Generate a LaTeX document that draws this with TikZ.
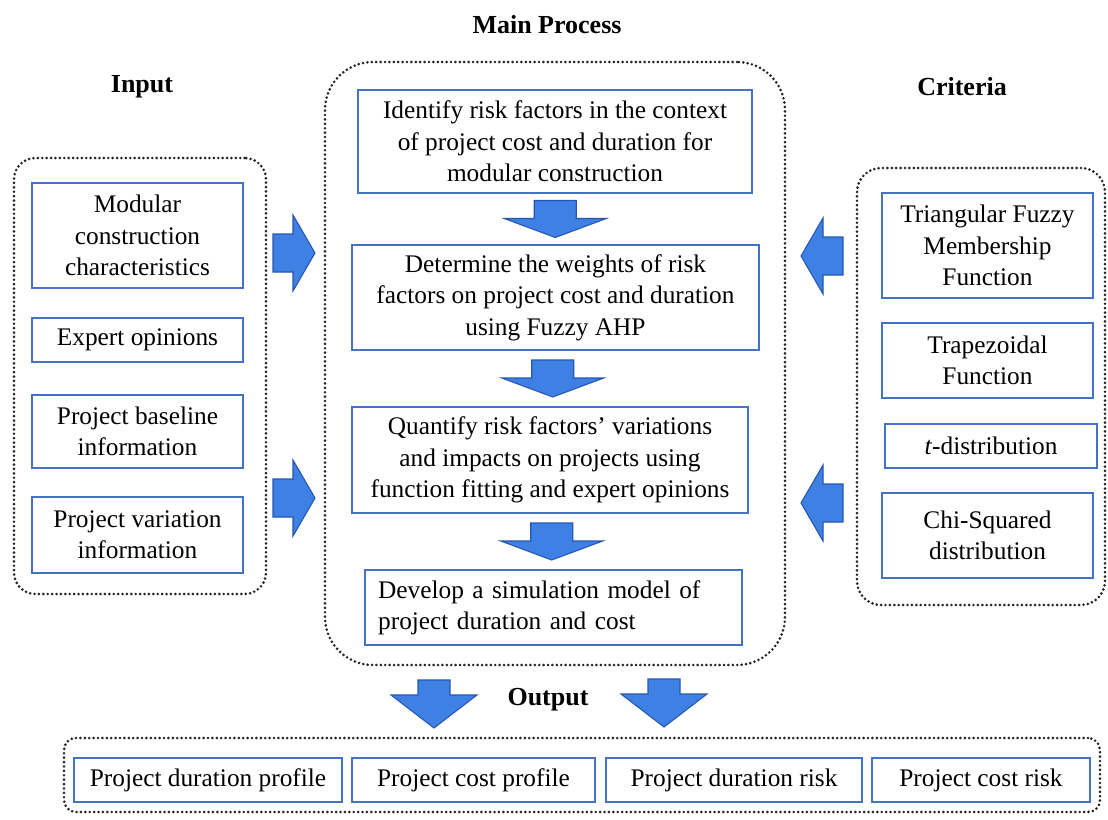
\documentclass[tikz,border=0pt]{standalone}
\usepackage{fontspec}
\setmainfont{Liberation Serif}
\usetikzlibrary{calc}
\definecolor{boxblue}{RGB}{68,114,196}
\definecolor{arrfill}{RGB}{62,128,228}
\definecolor{arredge}{RGB}{38,86,178}
\begin{document}
\begin{tikzpicture}[x=0.75pt,y=-0.75pt,
  rect/.style n args={4}{minimum width={(#3-#1)*0.75pt}, minimum height={(#4-#2)*0.75pt},
    at={({(#1+#3)/2},{(#2+#4)/2})}, anchor=center},
  box/.style={draw=boxblue, line width=1.5pt, fill=white, inner sep=0pt, align=center,
    font=\fontsize{19}{23.5}\selectfont},
  group/.style={draw=black!85, line width=2.2pt, line cap=round, dash pattern=on 0pt off 3.3pt, inner sep=0pt},
  title/.style={font=\fontsize{19.5}{23}\selectfont\bfseries},
  blockarrow/.style={fill=arrfill, draw=arredge, line width=0.8pt, line join=miter},
  mainarrow/.pic={\path[blockarrow] (-21,-18.5) -- (21,-18.5) -- (21,-0.5) -- (51,-0.5) -- (0,18.5) -- (-51,-0.5) -- (-21,-0.5) -- cycle;},
  outarrow/.pic={\path[blockarrow] (-16,-24) -- (16,-24) -- (16,-9) -- (43,-9) -- (0,24) -- (-43,-9) -- (-16,-9) -- cycle;},
  sidearrow/.pic={\path[blockarrow] (-21,-19) -- (-1,-19) -- (-1,-38) -- (21,0) -- (-1,38) -- (-1,19) -- (-21,19) -- cycle;}
]
\useasboundingbox (0,0) rectangle (1108,819);

% titles
\node[title] (tmain) at (547,25) {Main Process};
\node[title] (tin) at (142,87) {Input};
\node[title] (tcrit) at (962,87) {Criteria};
\node[title] (tout) at (548,700) {Output};

% groups
\node[group, rounded corners=16pt, rect={14}{158}{266}{594}] (gin) {};
\node[group, rounded corners=36pt, rect={325}{62}{785}{665}] (gmain) {};
\node[group, rounded corners=18pt, rect={857}{168}{1105}{605}] (gcrit) {};
\node[group, rounded corners=9pt, rect={64}{738}{1100}{812}] (gout) {};

% input boxes
\node[box, rect={32}{183}{243}{288}] (in1) {Modular\\construction\\characteristics};
\node[box, rect={32}{318}{243}{362}] (in2) {Expert opinions};
\node[box, rect={32}{395}{243}{468}] (in3) {Project baseline\\information};
\node[box, rect={32}{497}{243}{573}] (in4) {Project variation\\information};

% main boxes
\node[box, rect={358}{90}{752}{193}] (m1) {Identify risk factors in the context\\of project cost and duration for\\modular construction};
\node[box, rect={352}{245}{759}{350}] (m2) {Determine the weights of risk\\factors on project cost and duration\\using Fuzzy AHP};
\node[box, rect={352}{407}{748}{513}] (m3) {Quantify risk factors’ variations\\and impacts on projects using\\function fitting and expert opinions};
\node[box, rect={365}{570}{742}{645}, text width=263pt, align=left] (m4) {Develop a simulation model of\\project duration and cost};

% criteria boxes
\node[box, rect={882}{193}{1093}{298}] (c1) {Triangular Fuzzy\\Membership\\Function};
\node[box, rect={882}{323}{1093}{398}] (c2) {Trapezoidal\\Function};
\node[box, rect={885}{424}{1097}{468}] (c3) {\textit{t}-distribution};
\node[box, rect={882}{493}{1093}{578}] (c4) {Chi-Squared\\distribution};

% output boxes
\node[box, rect={74}{758}{342}{802}] (o1) {Project duration profile};
\node[box, rect={352}{758}{595}{802}] (o2) {Project cost profile};
\node[box, rect={606}{758}{862}{802}] (o3) {Project duration risk};
\node[box, rect={872}{758}{1090}{802}] (o4) {Project cost risk};

% block arrows in the main flow
\path ($(m1.south)!0.5!(m2.north)$) pic {mainarrow};
\path ($(m2.south)!0.5!(m3.north)$) pic {mainarrow};
\path ($(m3.south)!0.5!(m4.north)$) pic {mainarrow};

% input and criteria arrows
\path (294,253) pic {sidearrow};
\path (294,498) pic {sidearrow};
\path (822,256) pic[rotate=180] {sidearrow};
\path (822,503) pic[rotate=180] {sidearrow};

% output arrows
\path (434,704) pic {outarrow};
\path (664,703) pic {outarrow};
\end{tikzpicture}
\end{document}
